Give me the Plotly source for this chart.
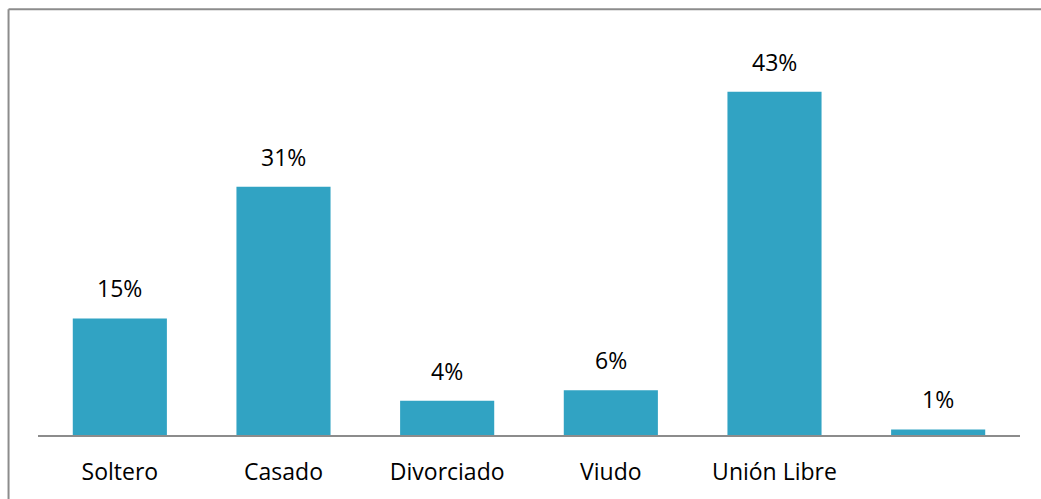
import plotly.graph_objects as go

# estado civil, porcentaje
categories = ["Soltero", "Casado", "Divorciado", "Viudo", "Unión Libre", " "]
values = [14.6, 31.1, 4.3, 5.6, 43.0, 0.7]

fig = go.Figure()

fig.add_trace(go.Bar(
    x=categories,
    y=values,
    width=0.575,
    marker=dict(color="#31a3c3", line=dict(width=0)),
    showlegend=False,
    hovertemplate="%{x}: %{y:.0f}%<extra></extra>",
))

# data labels sit a bit higher above the bars than plotly's default
for c, v in zip(categories, values):
    fig.add_annotation(
        x=c, y=v, text=f"{v:.0f}%", showarrow=False,
        yanchor="bottom", yshift=12,
        font=dict(family="Open Sans", size=23, color="#000000"),
    )

# chart border: only the top and left edges fall inside the picture
fig.add_shape(type="line", xref="paper", yref="paper",
              x0=-0.03, x1=1.1, y0=1.0673, y1=1.0673,
              line=dict(color="#8c8c8c", width=2))
fig.add_shape(type="line", xref="paper", yref="paper",
              x0=-0.03, x1=-0.03, y0=-0.3, y1=1.0673,
              line=dict(color="#8c8c8c", width=2))

fig.update_layout(
    width=1041, height=499,
    margin=dict(l=38, r=21, t=36, b=56),
    paper_bgcolor="white",
    plot_bgcolor="white",
    font=dict(family="Open Sans", size=23, color="#000000"),
)
fig.update_xaxes(
    showline=True, linecolor="#8c8c8c", linewidth=2,
    ticks="", showgrid=False, ticklabelstandoff=15,
    tickfont=dict(family="Open Sans", size=23, color="#000000"),
)
fig.update_yaxes(range=[0, 50], visible=False, showgrid=False)

# drop the default page margin so the figure fills the window exactly
page_fix = (
    "document.body.style.margin = '0';"
    "document.body.style.overflow = 'hidden';"
    "document.documentElement.style.overflow = 'hidden';"
)
fig.write_html("out.html", post_script=page_fix,
               config={"displayModeBar": False})
